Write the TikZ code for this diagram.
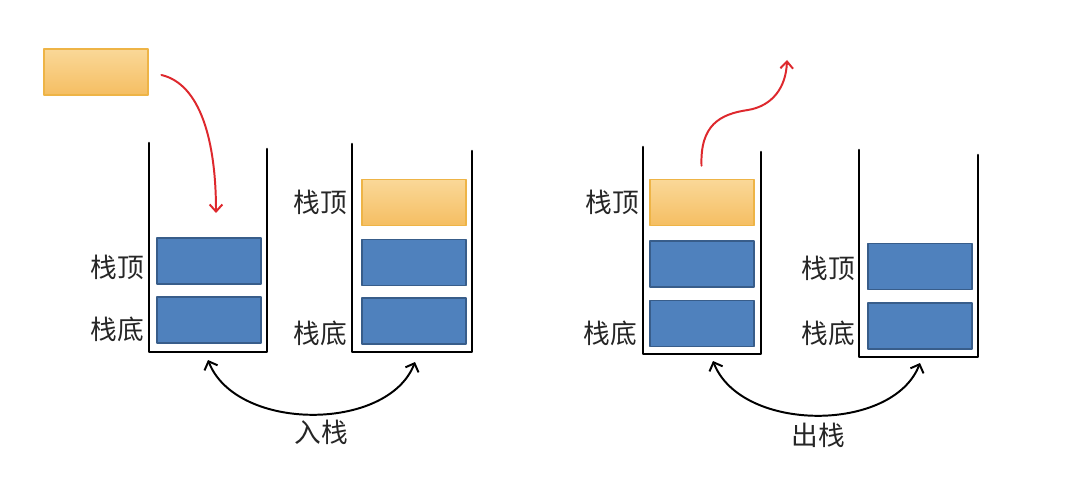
\documentclass[tikz,border=0pt]{standalone}
\usepackage{fontspec}
\newfontfamily\cjk{Noto Sans CJK SC}
\usetikzlibrary{arrows.meta}
\begin{document}
\begin{tikzpicture}[x=0.025cm,y=-0.025cm,line cap=round,line join=round]
\colorlet{blkc}{blue!45!cyan!55!black}
\definecolor{bluefill}{RGB}{79,129,189}
\definecolor{blueedge}{RGB}{56,93,138}
\definecolor{orangetop}{RGB}{250,216,152}
\definecolor{orangebot}{RGB}{245,190,98}
\definecolor{orangeedge}{RGB}{238,180,70}
\definecolor{redc}{RGB}{222,40,45}

\tikzset{
wall/.style={draw=black, line width=1.8pt},
blueblk/.style={draw=blueedge, line width=0.8pt, fill=bluefill, minimum width=2.6cm, minimum height=1.15cm, inner sep=0pt},
orangeblk/.style={draw=orangeedge, line width=0.8pt, top color=orangetop, bottom color=orangebot, minimum width=2.6cm, minimum height=1.15cm, inner sep=0pt},
lbl/.style={font=\cjk\fontsize{19}{22}\selectfont, text=black!85, inner sep=0pt},
redarrow/.style={draw=redc, line width=1.4pt, -{Straight Barb[length=5pt,width=9pt]}},
swaparrow/.style={draw=black, line width=1.4pt, {Straight Barb[length=5pt,width=10pt]}-{Straight Barb[length=5pt,width=10pt]}}
}

\useasboundingbox[fill=white] (0,0) rectangle (1090,498);

% element waiting to be pushed
\node[orangeblk] (newblk) at (96,72) {};

% stack 1: before push
\draw[wall] (149,143) -- (149,352) -- (267,352) -- (267,149);
\node[blueblk] (s1top) at (209,261) {};
\node[blueblk] (s1bot) at (209,320) {};
\node[lbl] (s1toplbl) at (117,267) {栈顶};
\node[lbl] (s1botlbl) at (117,329) {栈底};

% stack 2: after push
\draw[wall] (352,144) -- (352,352) -- (472,352) -- (472,151);
\node[orangeblk] (s2new) at (414,202.5) {};
\node[blueblk] (s2mid) at (414,262.5) {};
\node[blueblk] (s2bot) at (414,321) {};
\node[lbl] (s2toplbl) at (320,202) {栈顶};
\node[lbl] (s2botlbl) at (320,333) {栈底};

% stack 3: before pop
\draw[wall] (643,147) -- (643,354) -- (761,354) -- (761,152);
\node[orangeblk] (popblk) at (702,202.5) {};
\node[blueblk] (s3mid) at (702,264) {};
\node[blueblk] (s3bot) at (702,323.5) {};
\node[lbl] (s3toplbl) at (612,202) {栈顶};
\node[lbl] (s3botlbl) at (610,333) {栈底};

% stack 4: after pop
\draw[wall] (859,150) -- (859,357) -- (978,357) -- (978,155);
\node[blueblk] (s4top) at (920,266.5) {};
\node[blueblk] (s4bot) at (920,326) {};
\node[lbl] (s4toplbl) at (828,268) {栈顶};
\node[lbl] (s4botlbl) at (828,333) {栈底};

% red arrows
\coordinate (drop) at (216,213);
\coordinate (away) at (787,60);
\draw[redarrow, shorten <=0.33cm] (newblk.east) .. controls (200,84) and (216,140) .. (drop);
\draw[redarrow, shorten <=0.33cm] (popblk.north) .. controls (700,125) and (720,114) .. (748,110) .. controls (772,106) and (786,88) .. (away);

% push / pop arcs
\coordinate (pushL) at (208,360);
\coordinate (pushR) at (415,362);
\coordinate (popL) at (713,361);
\coordinate (popR) at (920,363);
\draw[swaparrow] (pushL) .. controls (236,432) and (388,432) .. (pushR);
\draw[swaparrow] (popL) .. controls (741,433) and (893,433) .. (popR);
\node[lbl] (pushlbl) at (321,432) {入栈};
\node[lbl] (poplbl) at (818,435) {出栈};
\end{tikzpicture}
\end{document}
